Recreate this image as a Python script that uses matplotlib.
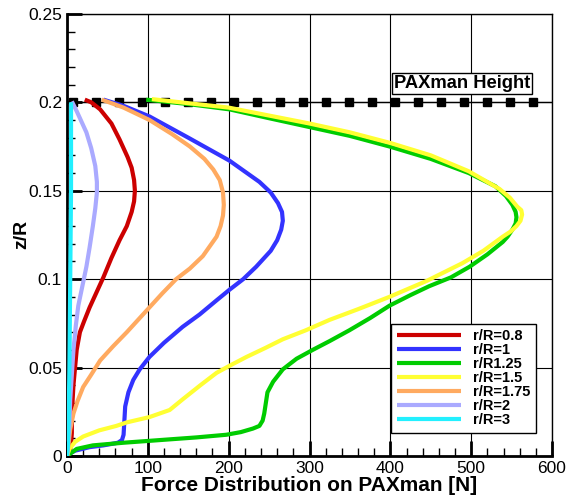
import numpy as np
import matplotlib.pyplot as plt
from matplotlib.ticker import MultipleLocator

plt.rcParams['font.family'] = ['Liberation Sans', 'DejaVu Sans']

# curves, (force [N], z/R) from top to bottom
red_x = [22, 30, 41, 55, 65, 75, 80, 83, 84, 83, 80, 74, 65, 55, 45, 36, 28, 21, 16, 12, 10, 8, 7, 6, 6, 5, 2]
red_z = [0.2015, 0.200, 0.196, 0.188, 0.179, 0.169, 0.163, 0.156, 0.150, 0.144, 0.138, 0.130, 0.122, 0.112,
         0.101, 0.092, 0.084, 0.076, 0.070, 0.060, 0.050, 0.040, 0.032, 0.020, 0.013, 0.006, 0.0]

blue_x = [45, 70, 102, 150, 201, 238, 252, 261, 266, 267, 265, 260, 252, 234, 218, 201, 185, 164, 143, 120,
          102, 90, 82, 76, 72, 71, 70, 68, 63, 55, 45, 28, 10, 2]
blue_z = [0.2015, 0.198, 0.192, 0.180, 0.167, 0.155, 0.149, 0.143, 0.138, 0.133, 0.128, 0.122, 0.116,
          0.107, 0.100, 0.094, 0.088, 0.080, 0.073, 0.064, 0.056, 0.049, 0.043, 0.036, 0.028, 0.020,
          0.012, 0.009, 0.0075, 0.0068, 0.006, 0.005, 0.003, 0.001]

green_x = [98, 150, 201, 250, 300, 350, 399, 450, 497, 530, 543, 551, 555, 556, 555, 551, 545, 539, 520,
           498, 475, 448, 425, 399, 375, 349, 325, 304, 284, 267, 255, 248, 246, 244, 242, 238, 230, 215,
           197, 160, 115, 70, 32, 12, 0]
green_z = [0.2015, 0.199, 0.196, 0.191, 0.186, 0.181, 0.175, 0.168, 0.160, 0.1525, 0.147, 0.142, 0.138,
           0.135, 0.1315, 0.128, 0.124, 0.121, 0.114, 0.107, 0.101, 0.096, 0.091, 0.085, 0.078, 0.071,
           0.065, 0.060, 0.055, 0.049, 0.042, 0.036, 0.030, 0.024, 0.020, 0.017, 0.0155, 0.0135, 0.012,
           0.0105, 0.009, 0.0075, 0.006, 0.004, 0.0]

yellow_x = [105, 150, 200, 250, 300, 350, 400, 450, 497, 535, 548, 557, 562, 563, 561, 556, 549, 539, 515,
            489, 445, 399, 360, 325, 295, 267, 245, 222, 201, 185, 165, 143, 127, 102, 74, 61, 40, 20, 10,
            3, 0]
yellow_z = [0.2018, 0.1995, 0.197, 0.1925, 0.188, 0.183, 0.177, 0.170, 0.161, 0.151, 0.146, 0.141,
            0.139, 0.1365, 0.133, 0.130, 0.127, 0.124, 0.116, 0.109, 0.099, 0.090, 0.083, 0.077, 0.071,
            0.066, 0.061, 0.056, 0.051, 0.047, 0.040, 0.032, 0.026, 0.022, 0.019, 0.017, 0.0145, 0.011,
            0.008, 0.004, 0.0]

orange_x = [43, 70, 102, 130, 152, 170, 181, 189, 193, 194, 193, 190, 185, 168, 152, 135, 118, 102, 88, 74,
            57, 41, 30, 20, 13, 8, 4, 2, 0]
orange_z = [0.2015, 0.197, 0.190, 0.182, 0.175, 0.168, 0.162, 0.156, 0.149, 0.142, 0.136, 0.130, 0.124,
            0.113, 0.106, 0.100, 0.092, 0.084, 0.077, 0.070, 0.062, 0.054, 0.046, 0.039, 0.031, 0.024,
            0.015, 0.007, 0.0]

lav_x = [6, 12, 18, 24, 30, 35, 37, 37, 35, 32, 28, 24, 19, 14, 11, 8, 6, 4, 3, 1, 0]
lav_z = [0.2005, 0.195, 0.189, 0.183, 0.174, 0.164, 0.155, 0.149, 0.140, 0.130, 0.118, 0.107, 0.096,
         0.085, 0.074, 0.060, 0.046, 0.032, 0.018, 0.005, 0.0]

cyan_x = [5, 5, 4, 3, 2, 1, 0]
cyan_z = [0.2, 0.15, 0.1, 0.05, 0.02, 0.005, 0.0]

paxman_h = 0.2
labels = ['r/R=0.8', 'r/R=1', 'r/R1.25', 'r/R=1.5', 'r/R=1.75', 'r/R=2', 'r/R=3']
colors = ['#CC0000', '#3333FF', '#00CC00', '#FFFF33', '#FFAA60', '#AAAAFF', '#22F0FF']

fig = plt.figure(figsize=(5.74, 4.99), dpi=100)
ax = fig.add_axes([0.1167, 0.0862, 0.845, 0.886])

# PAXman height line with square symbols
ax.axhline(paxman_h, color='k', lw=1, zorder=3)
ax.plot(np.arange(8, 590, 28.4), np.full(21, paxman_h), ls='', marker='s', ms=6.3, color='k', zorder=3)
ax.text(489, 0.2107, 'PAXman Height', ha='center', va='center', fontsize=13.2, fontweight='bold',
        bbox=dict(boxstyle='square,pad=0.1', fc='white', ec='k', lw=1))

series = [(red_x, red_z), (blue_x, blue_z), (green_x, green_z), (yellow_x, yellow_z),
          (orange_x, orange_z), (lav_x, lav_z), (cyan_x, cyan_z)]
for (xs, zs), lab, c in zip(series, labels, colors):
    ax.plot(xs, zs, color=c, lw=3, label=lab, zorder=4, solid_capstyle='butt')

ax.set_xlim(0, 600)
ax.set_ylim(0, 0.25)
ax.xaxis.set_major_locator(MultipleLocator(100))
ax.xaxis.set_minor_locator(MultipleLocator(20))
ax.yaxis.set_minor_locator(MultipleLocator(0.01))
ax.set_yticks([0, 0.05, 0.1, 0.15, 0.2, 0.25])
ax.set_yticklabels(['0', '0.05', '0.1', '0.15', '0.2', '0.25'])
ax.tick_params(which='major', direction='in', length=11, width=2, labelsize=12.5)
ax.tick_params(which='minor', direction='in', length=6, width=1)
ax.grid(True, which='major', color='k', lw=0.8)
for s in ['left', 'bottom']:
    ax.spines[s].set_linewidth(2)
for s in ['top', 'right']:
    ax.spines[s].set_linewidth(1)

ax.set_xlabel('Force Distribution on PAXman [N]', fontsize=15, fontweight='bold', labelpad=0)
ax.set_ylabel('z/R', fontsize=14, fontweight='bold')
ax.yaxis.set_label_coords(-0.076, 0.5)

leg = ax.legend(loc='lower right', bbox_to_anchor=(0.982, 0.035), handlelength=4.4,
                labelspacing=0.0, fancybox=False, framealpha=1, edgecolor='k',
                prop={'weight': 'bold', 'size': 10.5}, borderpad=0.4, handletextpad=0.8)
leg.get_frame().set_linewidth(1)

fig.savefig('out.png', dpi=100)
